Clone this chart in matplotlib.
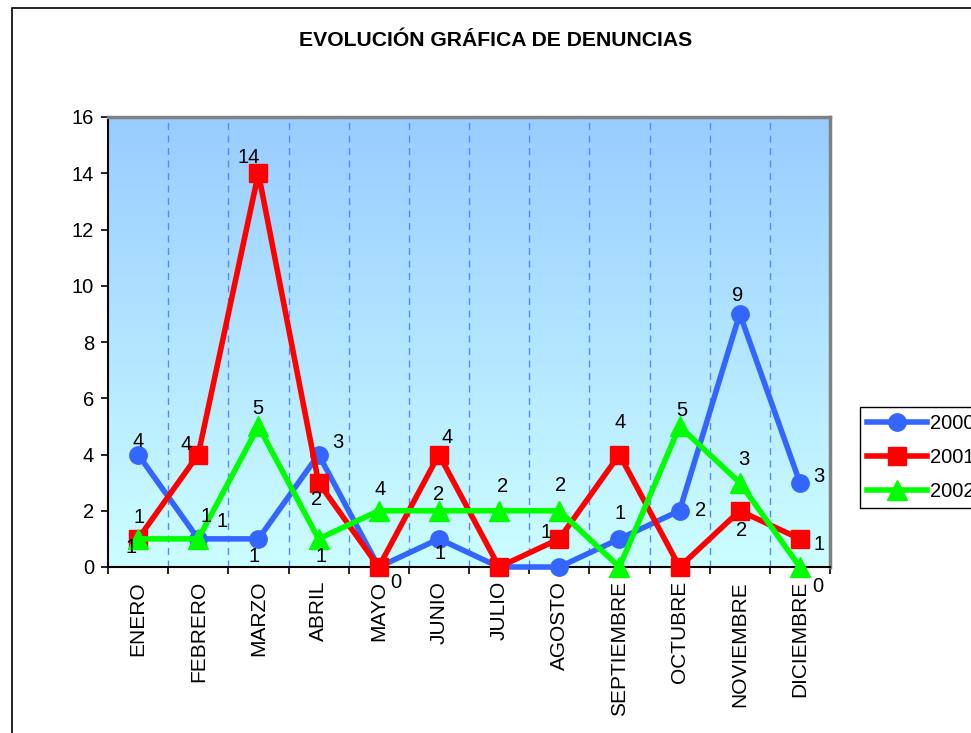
import matplotlib as mpl
mpl.use('Agg')
import matplotlib.pyplot as plt
import numpy as np
from matplotlib.colors import LinearSegmentedColormap
from matplotlib.patches import Rectangle

plt.rcParams['font.family'] = ['Liberation Sans', 'DejaVu Sans']

# datos
meses = ['ENERO', 'FEBRERO', 'MARZO', 'ABRIL', 'MAYO', 'JUNIO', 'JULIO',
         'AGOSTO', 'SEPTIEMBRE', 'OCTUBRE', 'NOVIEMBRE', 'DICIEMBRE']
d2000 = [4, 1, 1, 4, 0, 1, 0, 0, 1, 2, 9, 3]
d2001 = [1, 4, 14, 3, 0, 4, 0, 1, 4, 0, 2, 1]
d2002 = [1, 1, 5, 1, 2, 2, 2, 2, 0, 5, 3, 0]

# etiquetas tal como aparecen en el grafico
lab2000 = ['4', '1', '1', '3', '0', '1', None, None, '1', '2', '9', '3']
lab2001 = ['1', '4', '14', '2', None, '4', None, '1', '4', None, '2', '1']
lab2002 = ['1', '1', '5', '1', '4', '2', '2', '2', None, '5', '3', '0']

# desplazamientos de las etiquetas (pixeles)
off2000 = [(0, 13), (24, 17), (-4, -18), (19, 12), (17, -15), (1, -15), None, None,
           (1, 25), (21, 0), (-2, 18), (19, 6)]
off2001 = [(-7, -9), (-12, 10), (-10, 16), (-2, -17), None, (8, 17), None, (-13, 6),
           (1, 32), None, (2, -20), (19, -6)]
off2002 = [(1, 21), (8, 22), (-1, 18), (2, -18), (1, 21), (0, 16), (3, 24), (1, 25),
           None, (2, 16), (4, 23), (18, -19)]

fig = plt.figure(figsize=(9.71, 7.33), dpi=100)

# marco exterior
fig.patches.append(Rectangle((12 / 971, -0.1), 1.2, 1 - 8 / 733 + 0.1,
                             transform=fig.transFigure, fill=False,
                             edgecolor='black', linewidth=1.2, clip_on=False))

ax = fig.add_axes([108 / 971, 1 - 567 / 733, 722 / 971, 450 / 733])

# fondo degradado
cmap = LinearSegmentedColormap.from_list('fondo', ['#ccffff', '#99ccff'])
grad = np.linspace(0, 1, 256).reshape(-1, 1)
ax.imshow(grad, extent=[-0.5, 11.5, 0, 16], origin='lower', aspect='auto',
          cmap=cmap, zorder=0)

x = np.arange(len(meses))
for b in np.arange(0.5, 11.5, 1):
    ax.axvline(b, color='#5588ff', linestyle=(0, (5, 4)), linewidth=1, zorder=1)

ax.plot(x, d2000, color='#3366ff', linewidth=4, marker='o', markersize=12.5,
        label='2000', zorder=3, clip_on=False)
ax.plot(x, d2001, color='#ff0000', linewidth=4, marker='s', markersize=12.5,
        label='2001', zorder=4, clip_on=False)
ax.plot(x, d2002, color='#00ff00', linewidth=4, marker='^', markersize=15,
        label='2002', zorder=5, clip_on=False)

for vals, labs, offs in [(d2000, lab2000, off2000), (d2001, lab2001, off2001),
                         (d2002, lab2002, off2002)]:
    for i, (v, t, o) in enumerate(zip(vals, labs, offs)):
        if t is None:
            continue
        ax.annotate(t, (i, v), xytext=o, textcoords='offset pixels',
                    ha='center', va='center', fontsize=14.5, zorder=6,
                    annotation_clip=False)

ax.set_xlim(-0.5, 11.5)
ax.set_ylim(0, 16)
ax.set_yticks(np.arange(0, 17, 2))
ax.set_xticks(x)
ax.set_xticklabels(meses, rotation=90, fontsize=15)
ax.set_xticks(np.arange(-0.5, 12, 1), minor=True)
ax.tick_params(axis='x', which='major', length=0, pad=10)
ax.tick_params(axis='x', which='minor', length=5, width=1.2, direction='out')
ax.tick_params(axis='y', labelsize=14.5, length=5, width=1.2, direction='out', pad=5)

ax.spines['left'].set_linewidth(1.5)
ax.spines['bottom'].set_linewidth(1.5)
for s in ['top', 'right']:
    ax.spines[s].set_color('#808080')
    ax.spines[s].set_linewidth(2.5)

fig.text(496 / 971, 1 - 40 / 733, 'EVOLUCIÓN GRÁFICA DE DENUNCIAS',
         ha='center', va='center', fontsize=15.2, fontweight='bold')

# la leyenda queda cortada por el borde derecho, como en el original
leg = fig.legend(loc='upper left', bbox_to_anchor=(860 / 971, 1 - 407 / 733),
                 fontsize=14.5, frameon=True, fancybox=False, framealpha=1,
                 edgecolor='black', handlelength=3.0, handletextpad=0.15,
                 borderpad=0.35, labelspacing=0.75, borderaxespad=0)
leg.get_frame().set_linewidth(1)

fig.savefig('out.png', dpi=100)
